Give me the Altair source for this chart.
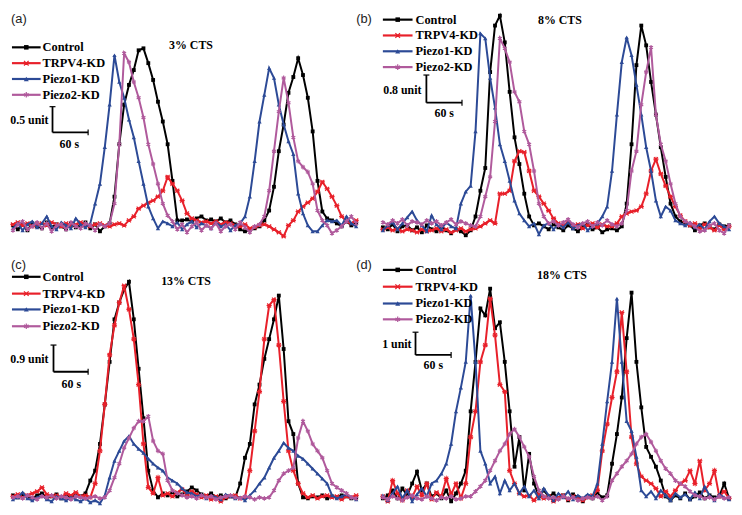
import altair as alt
import pandas as pd

# ---------------- data (heights of each trace above its baseline) ----------
N = 72
STEP_S = 8
time_s = [i * STEP_S for i in range(N)]

series_names = ["Control", "TRPV4-KD", "Piezo1-KD", "Piezo2-KD"]
series_colors = ["#000000", "#e8202a", "#2c4a96", "#b05a9c"]

panel_labels = ["(a)", "(b)", "(c)", "(d)"]
panel_titles = ["3% CTS", "8% CTS", "13% CTS", "18% CTS"]
unit_labels = ["0.5 unit", "0.8 unit", "0.9 unit", "1 unit"]
time_bar_label = "60 s"

a_ctrl = [1, -3, 2, -4, 3, 0, -2, 4, -1, 2, 0, -3, 3, -1, 1, 4, -2, 2, -5, 0,
          3, 30, 83, 123, 143, 158, 178, 180, 165, 148, 126, 106, 83, 46, 6, 6,
          7, 5, 8, 10, 6, 7, 5, 8, 4, 6, 2, -3, -5, -4, -2, 0,
          6, 16, 40, 76, 103, 135, 151, 170, 153, 130, 96, 46, 15, 8, 6, 3, 0, 5, 1, 3]
a_trpv4 = [2, 4, 1, 3, 0, 2, 3, 1, 4, 2, 0, 3, 1, 2, 4, 1, 0, 2, 3, 1, 0, 2,
           3, 1, 6, 10, 18, 21, 24, 26, 30, 36, 50, 43, 36, 26, 13, 8, 6,
           4, 5, 3, 5, 2, 4, 3, 1, 0, 2, -2, -1, 1, 2,
           0, -3, -6, -10, 1, 6, 15, 20, 24, 28, 35, 45, 38, 30, 21, 10, 5, 3, 6]
a_p1 = [-2, 3, -4, 2, 5, -1, 3, 10, 0, -3, 4, 1, -2, 8, 2, -1, 3,
        23, 43, 80, 123, 173, 146, 130, 108, 90, 66, 43, 20, 8, -2, 5,
        3, 0, 4, -3, 2, 5, -1, 3, 1, -2, 4, 0, 2, -4, 1, 3,
        10, 30, 66, 106, 133, 160, 150, 123, 103, 86, 73, 33, 13, 1, -5, -5, 1, 6, 5, 6, 1, 10, 3, 0]
a_p2 = [-4, 2, 5, -3, 0, 4, -2, 3, -5, 1, 2, -3, 4, 0, -2, 3, 1, -4, 2, 0, 3,
        23, 83, 175, 166, 146, 130, 110, 83, 63, 43, 23, 11, 5,
        -3, 2, -6, 0, 4, -4, 1, -2, 3, -5, 0, 2, -3, 4, -1, -6, 0, 2,
        10, 36, 76, 116, 150, 125, 90, 66, 60, 55, 43, 16, 6, 1, -7, -4, 0, 5, 10, 3]

b_ctrl = [0, -2, 3, -4, 1, 2, -3, 0, -5, 2, -2, -4, 1, -3, -6, -2, -4, -8, -3,
          11, 37, 60, 157, 204, 214, 187, 137, 91, 64, 34, 11, 2,
          4, 1, -2, 3, 0, -3, 2, -1, -4, 1, 3, -2, 0, -5, -2, -1, -3, 1,
          24, 84, 164, 204, 184, 147, 114, 81, 51, 24, 11, 6, 4, 2, -3, 2, 4, 0, -2, 3, 1, 2]
b_trpv4 = [-2, 0, -3, -1, -4, -2, -3, -5, -2, -4, -3, -1, -4, -2, -5, -3, -1, -4, -2,
           -1, 1, 4, 7, 4, 34, 34, 37, 67, 77, 76, 57, 37, 31, 24, 17, 9, 4,
           2, 5, 1, 3, -1, 2, 4, 0, 3, 1,
           1, 4, 11, 14, 16, 17, 21, 34, 57, 69, 54, 42, 31, 21, 12, 6, 2, 4, -1, 3, 0, -3, 2, -2, 1]
b_p1 = [-3, 2, 5, -2, 4, 10, 16, 7, 2, -4, 12, 3, -2, 5, 1, -1,
        24, 36, 42, 97, 196, 191, 151, 121, 84, 67, 47, 27, 14, 7, 1, 4,
        -7, 2, 4, -2, 3, 0, 5, -1, 2, 4, -3, 1,
        4, 11, 21, 57, 114, 167, 192, 174, 144, 114, 81, 57, 27, 11, 21, 17, 7, 4, 2, 5, 0, 3, -2, 6, 11, 4, 1, -2]
b_p2 = [5, 3, 7, 4, 8, 2, 6, 5, 3, 7, 4, 6, 2, 5, 8, 3, 6, 4, 2,
        1, 11, 31, 51, 107, 191, 181, 167, 137, 127, 97, 84, 57, 24, 11, 4,
        6, 2, 5, 8, 3, 0, 4, 6, 1, 5, 2, 7, 3, 1, 4,
        17, 57, 77, 124, 157, 182, 114, 84, 67, 44, 24, 11, 6, 4, 1, -4, -3, 2, 4, -3, -6, 2]

c_ctrl = [2, 0, 3, 1, -1, 2, 4, 0, 1, 3, -1, 2, 0, 3, 1,
          4, 17, 27, 54, 94, 137, 180, 197, 210, 218, 180, 130, 80, 27, 7, 0,
          4, 2, 5, 1, 3, 6, 10, 7, 3, 1, 4, 0, 2, -1, 1, 0,
          14, 40, 54, 94, 114, 140, 160, 180, 204, 150, 77, 64, 14, 0, -1, 1, 0, 2, -1, 1, 0, 2, 1, -1, 0]
c_trpv4 = [1, 3, 0, 2, 4, 6, 10, 3, 1, 2, 0, 4, 2, 5, 1, 2,
           0, 14, 47, 94, 144, 174, 197, 214, 190, 160, 114, 54, 10, 4, 20, 2, 4,
           1, 5, 8, 2, 6, 3, 0, 2, -2, 1, -4, 0, 1, 2, -1, 0,
           27, 67, 107, 160, 194, 200, 154, 97, 47, 27, 14, 4, 0, 2, -1, 1, 2, 0, 1, -2, 1, 0, 2]
c_p1 = [-2, 0, 5, -1, -3, 0, 2, -2, -4, 1, -1, -3, 0, -2, -4, -1, -5, -3, -6,
        2, 20, 37, 47, 57, 62, 54, 49, 45, 39, 34, 30, 27, 20, 17, 14, 9, 5,
        4, 1, 3, -1, 2, 0, -2, 3, 1, -1, 0, -3, 2,
        7, 14, 20, 30, 40, 47, 55, 50, 47, 42, 39, 34, 29, 24, 19, 14, 2, -1, 1, 3, 0, -2]
c_p2 = [0, 1, -1, 2, 0, -2, 1, 0, 2, -1, 1, 0, -2, 1, 0, -1, 0, 1, -1, 0,
        7, 20, 34, 50, 60, 70, 77, 77, 82, 57, 47, 44, 17, 7,
        4, 2, 0, 1, -1, 2, 0, 1, -2, 0, 1, 2, 0, -1, 1, 0, -2, 0, -1, 0,
        7, 17, 24, 27, 30, 60, 77, 67, 54, 47, 40, 27, 14, 10, 7, 4, 0, -1]

d_ctrl = [0, 3, 8, 0, 10, 3, 15, 27, 8, 15, 2, 5, 0, 8, -3, 5, 15, 28,
          88, 138, 192, 185, 212, 172, 178, 138, 88, 32, 62, 8, 45, 15, 2, 8, 2,
          5, 0, 3, -2, 4, 1, -3, 2, 0, 5, 1, 3,
          35, 65, 102, 162, 208, 138, 92, 52, 42, 32, 18, 2, -2, 3, 0, 5, -1, 2, 6, 0, 3, 1, 2, 15, 0]
d_trpv4 = [2, -3, 18, 5, -2, 8, 1, 12, 3, 15, -1, 6, 2, 20, 4, 15, 0,
           15, 62, 88, 138, 155, 202, 165, 115, 108, 28, 15, 5, 2,
           3, -2, 4, 0, 2, -3, 1, 3, -1, 2, 0, -2, 1, 3,
           8, 48, 75, 102, 128, 188, 128, 62, 35, 22, 18, 15, 10, 2, 7, 2, 8, 15, 18, 28, 15, 38, 8, 15, 28, 2, 7, 0]
d_p1 = [3, -2, 5, 12, 0, 8, -3, 4, 10, 2,
        15, 18, 25, 35, 55, 88, 112, 138, 205, 138, 48, 35, 15, 22, 5, 18, 8, 15, 5, 12, 2, 8, 0, 10,
        3, -2, 5, 1, 7, -1, 3, 0, 4, 2,
        15, 55, 98, 138, 202, 138, 78, 68, 42, 8, 2, 7, 0, 8, 3, -2, 5, 1, 4, -1, 6, 0, 12, 3, -2, 4, 1, -1]
d_p2 = [1, -1, 2, 0, -2, 1, 3, 0, -1, 2, 0, -2, 1, 0, 2, -1,
        0, 2, 2, 7, 12, 18, 28, 38, 48, 55, 65, 70, 62, 52, 42, 22, 8, 2,
        0, 1, -1, 2, 0, 1, -2, 0, 1, 0, 2, -2, 2,
        18, 25, 32, 38, 45, 55, 62, 65, 57, 48, 38, 30, 25, 18, 15, 12, 7, 3, 2, 0, 1, -1, 2, 0, 1]

panel_data = [
    [a_ctrl, a_trpv4, a_p1, a_p2],
    [b_ctrl, b_trpv4, b_p1, b_p2],
    [c_ctrl, c_trpv4, c_p1, c_p2],
    [d_ctrl, d_trpv4, d_p1, d_p2],
]
for grp in panel_data:
    for s in grp:
        if len(s) != N:
            raise ValueError(f"series length {len(s)} != {N}")

# ---------------- styling / layout ----------------
MARKERS = [
    dict(shape="square", filled=True, size=15),
    dict(shape="M-1,-1L1,1M-1,1L1,-1M-1.3,0L1.3,0", filled=False, size=16),
    dict(shape="triangle-up", filled=True, size=19),
    dict(shape="M0,-1.2L0,1.2M-1,-0.6L1,0.6M-1,0.6L1,-0.6", filled=False, size=16),
]
SERIF = "Liberation Serif"

LAYOUT = [
    dict(w=349, h=242, xr=[2, 349], ydom=[-27, 215], lab=(0, 5), leg_x=(1, 30), leg_tx=32,
         leg_y=[34, 50, 66, 82], title=(182, 32), bar_x=42, bar_y=(94, 120), bar_x2=78,
         unit=(38, 108), sec=(59, 132)),
    dict(w=377, h=242, xr=[27, 377], ydom=[-26, 216], lab=(0, 5), leg_x=(27, 57), leg_tx=60,
         leg_y=[6, 22, 38, 54], title=(206, 6), bar_x=71, bar_y=(62, 90), bar_x2=107,
         unit=(66, 77), sec=(89, 100)),
    dict(w=349, h=257, xr=[2, 349], ydom=[-10, 247], lab=(0, 12), leg_x=(1, 30), leg_tx=32,
         leg_y=[24, 41, 57, 74], title=(177, 28), bar_x=43, bar_y=(93, 120), bar_x2=78,
         unit=(38, 107), sec=(61, 132)),
    dict(w=377, h=257, xr=[27, 377], ydom=[-9, 248], lab=(0, 12), leg_x=(27, 57), leg_tx=60,
         leg_y=[17, 34, 51, 67], title=(208, 22), bar_x=60, bar_y=(80, 103), bar_x2=96,
         unit=(56, 92), sec=(78, 113)),
]

dummy = pd.DataFrame({"k": [0]})


def make_panel(p):
    L = LAYOUT[p]
    layers = []
    x_enc = alt.X("t:Q", scale=alt.Scale(domain=[0, (N - 1) * STEP_S], range=L["xr"]), axis=None)
    y_enc = alt.Y("v:Q", scale=alt.Scale(domain=L["ydom"]), axis=None)
    for name, color, mk, vals in zip(series_names, series_colors, MARKERS, panel_data[p]):
        df = pd.DataFrame({"t": time_s, "v": vals})
        pt = alt.OverlayMarkDef(shape=mk["shape"], filled=mk["filled"], size=mk["size"],
                                color=color, strokeWidth=1.2, opacity=1)
        layers.append(
            alt.Chart(df).mark_line(color=color, strokeWidth=2.0, point=pt).encode(x=x_enc, y=y_enc)
        )
    # legend (drawn inside the panel)
    for i, (name, color, mk) in enumerate(zip(series_names, series_colors, MARKERS)):
        ly = L["leg_y"][i]
        x0, x1 = L["leg_x"]
        layers.append(alt.Chart(dummy).mark_rule(color=color, strokeWidth=2.2).encode(
            x=alt.value(x0), x2=alt.value(x1), y=alt.value(ly)))
        layers.append(alt.Chart(dummy).mark_point(
            shape=mk["shape"], filled=mk["filled"], size=mk["size"] + 6, color=color,
            strokeWidth=1.2, opacity=1).encode(x=alt.value((x0 + x1) / 2), y=alt.value(ly)))
        layers.append(alt.Chart(dummy).mark_text(
            text=name, font=SERIF, fontWeight="bold", fontSize=12.5, align="left",
            baseline="middle", color="#000").encode(x=alt.value(L["leg_tx"]), y=alt.value(ly)))
    # panel label and title
    layers.append(alt.Chart(dummy).mark_text(
        text=panel_labels[p], font="Liberation Sans", fontSize=13, align="left",
        baseline="middle", color="#222").encode(x=alt.value(L["lab"][0]), y=alt.value(L["lab"][1])))
    layers.append(alt.Chart(dummy).mark_text(
        text=panel_titles[p], font=SERIF, fontWeight="bold", fontSize=12, align="center",
        baseline="middle", color="#000").encode(x=alt.value(L["title"][0]), y=alt.value(L["title"][1])))
    # scale bar
    bx, (by0, by1), bx2 = L["bar_x"], L["bar_y"], L["bar_x2"]
    layers.append(alt.Chart(dummy).mark_rule(color="#000", strokeWidth=1.8).encode(
        x=alt.value(bx), y=alt.value(by0), y2=alt.value(by1)))
    layers.append(alt.Chart(dummy).mark_rule(color="#000", strokeWidth=1.8).encode(
        x=alt.value(bx), x2=alt.value(bx2), y=alt.value(by1)))
    layers.append(alt.Chart(dummy).mark_rule(color="#000", strokeWidth=1.2).encode(
        x=alt.value(bx - 3), x2=alt.value(bx + 3), y=alt.value(by0)))
    layers.append(alt.Chart(dummy).mark_rule(color="#000", strokeWidth=1.2).encode(
        x=alt.value(bx2), y=alt.value(by1 - 3), y2=alt.value(by1 + 3)))
    layers.append(alt.Chart(dummy).mark_text(
        text=unit_labels[p], font=SERIF, fontWeight="bold", fontSize=12, align="right",
        baseline="middle", color="#000").encode(x=alt.value(L["unit"][0]), y=alt.value(L["unit"][1])))
    layers.append(alt.Chart(dummy).mark_text(
        text=time_bar_label, font=SERIF, fontWeight="bold", fontSize=12, align="center",
        baseline="middle", color="#000").encode(x=alt.value(L["sec"][0]), y=alt.value(L["sec"][1])))
    return alt.layer(*layers).properties(width=L["w"], height=L["h"])


chart = alt.concat(
    make_panel(0), make_panel(1), make_panel(2), make_panel(3),
    columns=2, spacing=0, bounds="flush"
).properties(padding=0, background="white").configure_view(stroke=None)

chart.save("out.html", embed_options={"renderer": "svg", "actions": False})
